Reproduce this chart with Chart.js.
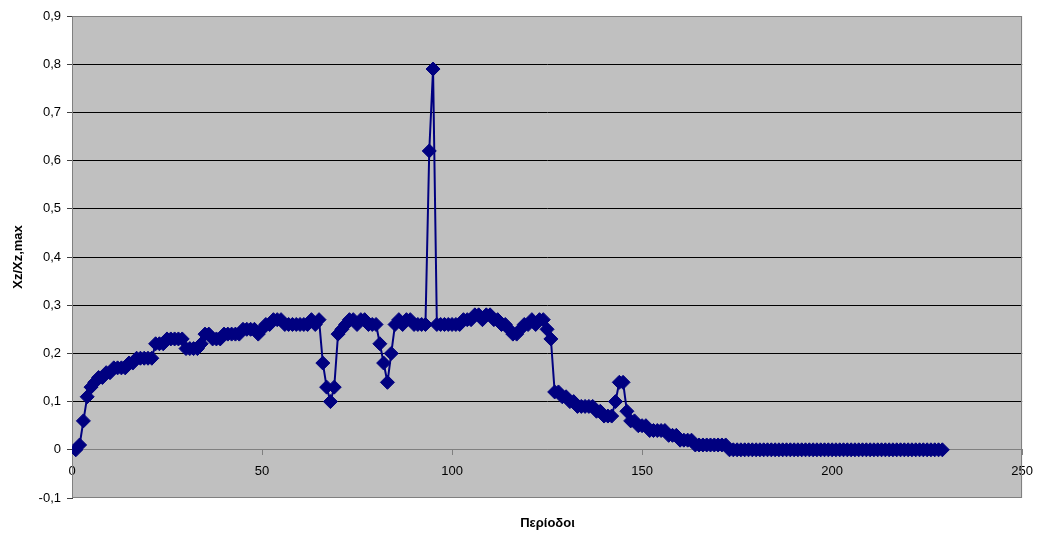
<!DOCTYPE html>
<html>
<head>
<meta charset="utf-8">
<script src="https://cdn.jsdelivr.net/npm/chart.js@4.4.1/dist/chart.umd.min.js"></script>
<style>
html,body{margin:0;padding:0;background:#fff;}
#wrap{position:relative;width:1042px;height:538px;}
#xtitle{position:absolute;left:72px;width:951px;top:515px;text-align:center;font:bold 13px "Liberation Sans",Arial,sans-serif;color:#000;}
</style>
</head>
<body>
<div id="wrap">
<canvas id="c" width="1042" height="538"></canvas>
<div id="xtitle">Περίοδοι</div>
</div>
<script>
const xTitle = "Περίοδοι";
const yTitle = "Xz/Xz,max";
const xTickValues = [0, 50, 100, 150, 200, 250];
const yTickValues = [-0.1, 0, 0.1, 0.2, 0.3, 0.4, 0.5, 0.6, 0.7, 0.8, 0.9];
const values = [
  0, 0.01, 0.06, 0.11, 0.13, 0.14, 0.15, 0.15, 0.16, 0.16,
  0.17, 0.17, 0.17, 0.17, 0.18, 0.18, 0.19, 0.19, 0.19, 0.19,
  0.19, 0.22, 0.22, 0.22, 0.23, 0.23, 0.23, 0.23, 0.23, 0.21,
  0.21, 0.21, 0.21, 0.22, 0.24, 0.24, 0.23, 0.23, 0.23, 0.24,
  0.24, 0.24, 0.24, 0.24, 0.25, 0.25, 0.25, 0.25, 0.24, 0.25,
  0.26, 0.26, 0.27, 0.27, 0.27, 0.26, 0.26, 0.26, 0.26, 0.26,
  0.26, 0.26, 0.27, 0.26, 0.27, 0.18, 0.13, 0.10, 0.13, 0.24,
  0.25, 0.26, 0.27, 0.27, 0.26, 0.27, 0.27, 0.26, 0.26, 0.26,
  0.22, 0.18, 0.14, 0.20, 0.26, 0.27, 0.26, 0.27, 0.27, 0.26,
  0.26, 0.26, 0.26, 0.62, 0.79, 0.26, 0.26, 0.26, 0.26, 0.26,
  0.26, 0.26, 0.27, 0.27, 0.27, 0.28, 0.28, 0.27, 0.28, 0.28,
  0.27, 0.27, 0.26, 0.26, 0.25, 0.24, 0.24, 0.25, 0.26, 0.26,
  0.27, 0.26, 0.27, 0.27, 0.25, 0.23, 0.12, 0.12, 0.11, 0.11,
  0.10, 0.10, 0.09, 0.09, 0.09, 0.09, 0.09, 0.08, 0.08, 0.07,
  0.07, 0.07, 0.10, 0.14, 0.14, 0.08, 0.06, 0.06, 0.05, 0.05,
  0.05, 0.04, 0.04, 0.04, 0.04, 0.04, 0.03, 0.03, 0.03, 0.02,
  0.02, 0.02, 0.02, 0.01, 0.01, 0.01, 0.01, 0.01, 0.01, 0.01,
  0.01, 0.01, 0, 0, 0, 0, 0, 0, 0, 0,
  0, 0, 0, 0, 0, 0, 0, 0, 0, 0,
  0, 0, 0, 0, 0, 0, 0, 0, 0, 0,
  0, 0, 0, 0, 0, 0, 0, 0, 0, 0,
  0, 0, 0, 0, 0, 0, 0, 0, 0, 0,
  0, 0, 0, 0, 0, 0, 0, 0, 0
];
// period index for each value (1, 2, 3, ...)
const periods = values.map((v, i) => i + 1);

const FONT = '"Liberation Sans", Arial, sans-serif';
const points = periods.map((p, i) => ({x: p, y: values[i]}));

const plotFrame = {
  id: 'plotFrame',
  beforeDraw(chart) {
    const {ctx, chartArea: a} = chart;
    ctx.save();
    ctx.fillStyle = '#C0C0C0';
    ctx.fillRect(a.left, a.top, a.right - a.left, a.bottom - a.top);
    ctx.restore();
  },
  beforeDatasetsDraw(chart) {
    const {ctx, chartArea: a} = chart;
    ctx.save();
    ctx.strokeStyle = '#808080';
    ctx.lineWidth = 1;
    ctx.strokeRect(Math.round(a.left) + 0.5, Math.round(a.top) + 0.5, Math.round(a.right - a.left) - 1, Math.round(a.bottom - a.top) - 1);
    ctx.restore();
  }
};

const fmt = v => {
  const r = Math.round(v * 10) / 10;
  return String(r).replace('.', ',');
};

new Chart(document.getElementById('c'), {
  type: 'scatter',
  data: {
    datasets: [{
      data: points,
      showLine: true,
      borderColor: '#000080',
      borderWidth: 2,
      backgroundColor: '#000080',
      pointStyle: 'rectRot',
      pointRadius: 7,
      pointBorderWidth: 1,
      pointBorderColor: '#000080',
      pointBackgroundColor: '#000080',
      tension: 0
    }]
  },
  options: {
    responsive: false,
    animation: false,
    events: [],
    layout: {padding: {left: 0, top: 16, right: 19, bottom: 40}},
    plugins: {legend: {display: false}, tooltip: {enabled: false}},
    scales: {
      x: {
        type: 'linear',
        min: 0, max: 250,
        position: {y: 0},
        afterBuildTicks: s => { s.ticks = xTickValues.map(v => ({value: v})); },
        ticks: {color: '#000', font: {family: FONT, size: 13}, padding: 9, maxRotation: 0},
        grid: {drawOnChartArea: false, drawTicks: true, tickLength: 5, tickColor: '#808080'},
        border: {display: true, color: '#808080', width: 1}
      },
      y: {
        type: 'linear',
        min: -0.1, max: 0.9,
        afterBuildTicks: s => { s.ticks = yTickValues.map(v => ({value: v})); },
        afterFit: s => { s.width = 72; },
        ticks: {color: '#000', font: {family: FONT, size: 13}, padding: 6, callback: v => fmt(v)},
        grid: {
          color: c => {
            const v = Math.round(c.tick.value * 10) / 10;
            if (v === -0.1 || v === 0.9) return 'rgba(0,0,0,0)';
            if (v === 0) return '#808080';
            return '#000000';
          },
          lineWidth: 1,
          drawTicks: true, tickLength: 5, tickColor: '#404040'
        },
        border: {display: true, color: '#404040', width: 1},
        title: {display: true, text: yTitle, color: '#000', font: {family: FONT, size: 13, weight: 'bold'}, padding: {top: 11, bottom: 0}}
      }
    }
  },
  plugins: [plotFrame]
});
</script>
</body>
</html>
